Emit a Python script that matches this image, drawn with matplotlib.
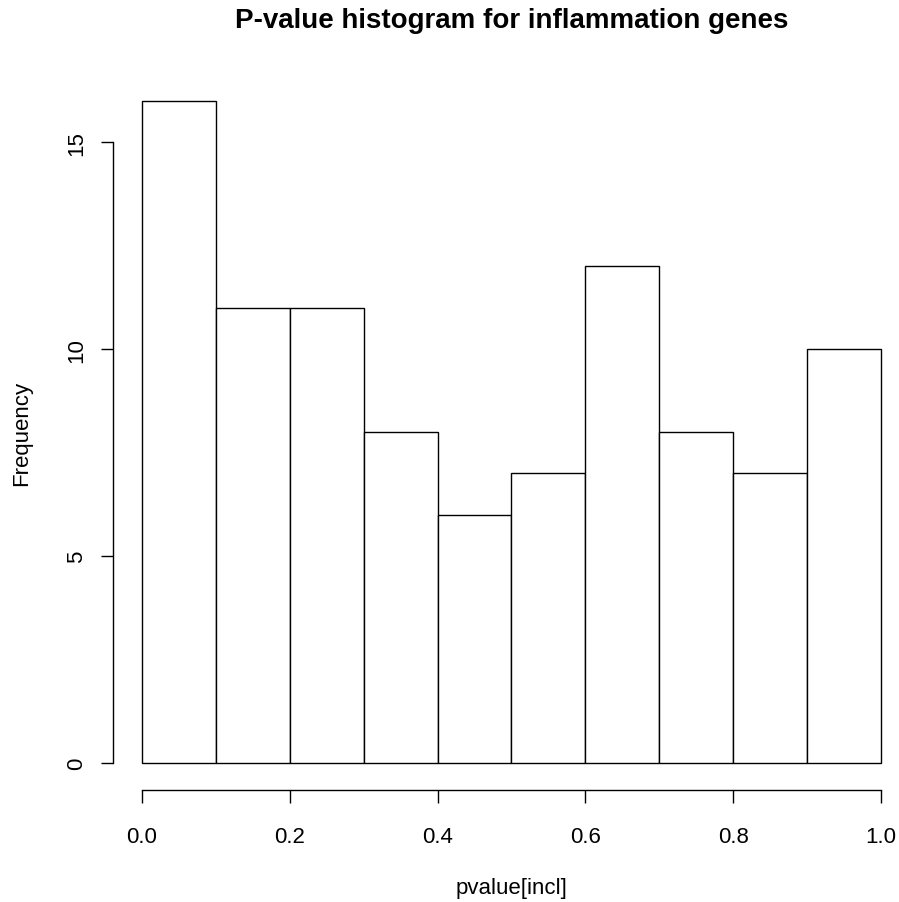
import numpy as np
import matplotlib
matplotlib.use("Agg")
from matplotlib import pyplot as plt

plt.rcParams['font.family'] = ['Liberation Sans', 'DejaVu Sans']

# histogram of p-values, 10 bins over [0, 1]
bin_edges = [0.0, 0.1, 0.2, 0.3, 0.4, 0.5, 0.6, 0.7, 0.8, 0.9, 1.0]
counts = [16, 11, 11, 8, 6, 7, 12, 8, 7, 10]
x_ticks = [0.0, 0.2, 0.4, 0.6, 0.8, 1.0]
x_tick_labels = ["0.0", "0.2", "0.4", "0.6", "0.8", "1.0"]
y_ticks = [0, 5, 10, 15]

W, H = 899, 903
fig = plt.figure(figsize=(W / 100, H / 100), dpi=100)

# plot region in pixels (R style, 4% padding around data)
left, right, top, bottom = 112.5, 910.5, 75.5, 790.5
ax = fig.add_axes([left / W, 1 - bottom / H, (right - left) / W, (bottom - top) / H])

edges = np.array(bin_edges)
ax.bar(edges[:-1], counts, width=np.diff(edges), align='edge',
       facecolor='white', edgecolor='black', linewidth=1.0)

ax.set_xlim(-0.04, 1.04)
ax.set_ylim(-0.64, 16.64)

for s in ['top', 'right']:
    ax.spines[s].set_visible(False)
ax.spines['left'].set_bounds(0, 15)
ax.spines['bottom'].set_bounds(0, 1)
ax.spines['left'].set_linewidth(1.0)
ax.spines['bottom'].set_linewidth(1.0)

ax.set_xticks(x_ticks)
ax.set_xticklabels(x_tick_labels)
ax.set_yticks(y_ticks)
ax.set_yticklabels([str(v) for v in y_ticks], rotation=90, va='center')

ax.tick_params(axis='x', length=9, width=1.0, labelsize=16, pad=17)
ax.tick_params(axis='y', length=9, width=1.0, labelsize=16, pad=9)

# labels and title placed like R does (centred on the plot region)
cx = (left + right) / 2
cy = (top + bottom) / 2
fig.text(cx / W, 1 - 894 / H, "pvalue[incl]", ha='center', va='baseline', fontsize=16)
fig.text(22 / W, 1 - cy / H, "Frequency", ha='center', va='center',
         rotation=90, fontsize=16)
fig.text(cx / W, 1 - 28 / H, "P-value histogram for inflammation genes",
         ha='center', va='baseline', fontsize=20, fontweight='bold')

fig.savefig("out.png", dpi=100)
